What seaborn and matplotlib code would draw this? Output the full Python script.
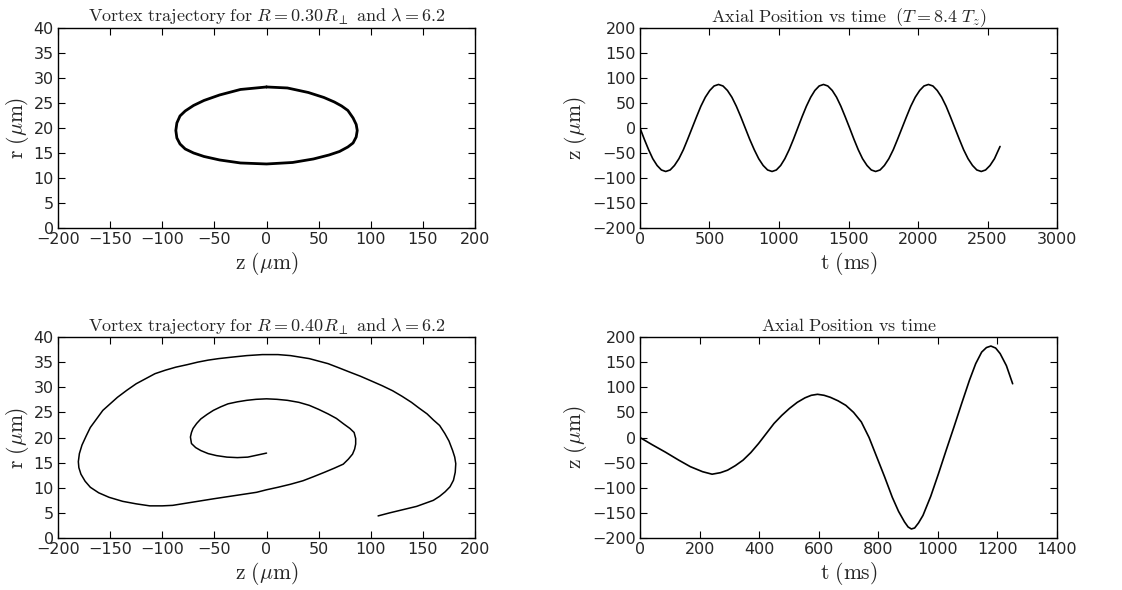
import numpy as np
import pandas as pd
import matplotlib
matplotlib.use('Agg')
import matplotlib.pyplot as plt
import seaborn as sns

# top-left: closed trajectory, R = 0.30 R_perp
orbit_z = [0, 20, 40, 55, 65, 72, 78, 83, 86, 87, 86, 83, 78, 70, 60, 45, 25,
           0, -25, -45, -60, -70, -78, -83, -86, -87, -86, -83, -78, -70, -60,
           -45, -25, 0]
orbit_r = [28.2, 28.0, 27.1, 26.1, 25.2, 24.4, 23.5, 22.0, 20.7, 19.5, 18.2,
           17.0, 16.2, 15.3, 14.6, 13.8, 13.1, 12.8, 13.0, 13.6, 14.3, 15.0,
           15.8, 16.8, 18.0, 19.5, 21.0, 22.4, 23.4, 24.5, 25.5, 26.6, 27.7, 28.2]

# top-right: axial position vs time
t1 = [0, 31, 62, 92, 123, 154, 185,
      217, 248, 280, 312, 343, 375, 407, 438, 470, 502, 533, 565,
      597, 629, 661, 693, 725, 757, 789, 822, 854, 886, 918, 950,
      981, 1012, 1042, 1073, 1104, 1135, 1166, 1197, 1228, 1258, 1289, 1320,
      1351, 1383, 1414, 1445, 1476, 1508, 1539, 1570, 1601, 1633, 1664, 1695,
      1727, 1758, 1790, 1822, 1853, 1885, 1917, 1948, 1980, 2012, 2043, 2075,
      2107, 2138, 2170, 2202, 2233, 2265, 2297, 2328, 2360, 2392, 2423, 2455,
      2486, 2518, 2550, 2590]
z1 = [0, -22.5, -43.5, -61.5, -75, -84, -87,
      -84, -75, -61.5, -43.5, -22.5, 0, 22.5, 43.5, 61.5, 75, 84, 87,
      84, 75, 61.5, 43.5, 22.5, 0, -22.5, -43.5, -61.5, -75, -84, -87,
      -84, -75, -61.5, -43.5, -22.5, 0, 22.5, 43.5, 61.5, 75, 84, 87,
      84, 75, 61.5, 43.5, 22.5, 0, -22.5, -43.5, -61.5, -75, -84, -87,
      -84, -75, -61.5, -43.5, -22.5, 0, 22.5, 43.5, 61.5, 75, 84, 87,
      84, 75, 61.5, 43.5, 22.5, 0, -22.5, -43.5, -61.5, -75, -84, -87,
      -84, -75, -61.5, -37]

# bottom-left: spiral trajectory, R = 0.40 R_perp
spiral_z = [0, -9, -18, -28, -38, -48, -56, -63, -68, -72, -73, -72, -70.5,
            -67, -63, -57, -51, -44, -37, -28, -19, -10, 0, 10, 20, 31, 41, 50,
            59, 67, 74, 80, 84, 85.5, 85.5, 84.5, 82.5, 78.5, 73.6, 65, 55.8,
            45, 35, 23, 11, 0, -9.5, -19, -35, -51, -66, -81, -90, -100, -112,
            -125, -138, -151, -161, -169, -174, -178, -180, -180.5, -179.5,
            -177, -173, -169, -163, -157, -150, -143, -134, -125, -116, -107,
            -97, -87, -76, -66, -56, -46, -33, -19, -4, 11, 23, 32, 41, 50, 59,
            69, 80, 90, 100, 111, 121, 130, 139, 146, 154, 160, 166, 171, 175,
            178.5, 180.5, 181.5, 181, 179.3, 176, 171.3, 166, 160, 152, 144,
            136, 128, 118, 107]
spiral_r = [16.9, 16.5, 16.1, 16.0, 16.1, 16.4, 16.8, 17.4, 18.0, 18.8, 20.1,
            21.0, 21.8, 22.8, 23.7, 24.6, 25.4, 26.1, 26.7, 27.1, 27.4, 27.6,
            27.7, 27.6, 27.4, 27.0, 26.4, 25.6, 24.7, 23.8, 22.7, 21.8, 21.0,
            19.8, 18.7, 17.7, 16.7, 15.7, 14.7, 13.9, 13.1, 12.2, 11.4, 10.7,
            10.1, 9.6, 9.1, 8.8, 8.3, 7.8, 7.3, 6.8, 6.5, 6.4, 6.4, 6.8, 7.3,
            8.1, 9.0, 10.1, 11.3, 12.7, 14.0, 15.2, 16.8, 18.5, 20.3, 22.0,
            23.7, 25.4, 26.7, 28.0, 29.4, 30.7, 31.7, 32.7, 33.4, 34.0, 34.5,
            35.0, 35.4, 35.7, 36.0, 36.3, 36.5, 36.5, 36.3, 36.0, 35.7, 35.2,
            34.7, 33.9, 33.0, 32.2, 31.3, 30.3, 29.3, 28.2, 27.0, 25.9, 24.7,
            23.5, 22.4, 20.8, 19.3, 17.4, 16.1, 14.8, 13.1, 11.5, 10.2, 9.2,
            8.3, 7.5, 6.9, 6.3, 5.9, 5.5, 5.0, 4.4]

# bottom-right: axial position vs time
t2 = [0, 40, 85, 130, 169, 210, 242, 270, 294, 320, 346, 372, 398, 424, 450,
      476, 502, 528, 554, 575, 596, 618, 639, 665, 691, 717, 743, 769, 795,
      821, 847, 868, 888, 900, 911, 922, 935, 950, 976, 1002, 1028, 1054,
      1080, 1106, 1127, 1147, 1163, 1178, 1194, 1209, 1230, 1251]
z2 = [0, -14, -29, -45, -58, -68, -73, -70, -65, -56, -45, -30, -12, 8, 28,
      44, 58, 70, 79, 84, 86, 84, 80, 73, 64, 50, 31, 0, -39,
      -78, -119, -147, -168, -178, -182, -180, -170, -155, -117, -72, -25, 21,
      68, 114, 147, 170, 179, 182, 178, 167, 143, 107]

sns.set_style("ticks")
plt.rcParams['font.family'] = ['DejaVu Sans']
plt.rcParams['mathtext.fontset'] = 'cm'

fig = plt.figure(figsize=(11.22, 5.9), dpi=100)
ax1 = fig.add_axes([0.0517, 0.6136, 0.3717, 0.339])
ax2 = fig.add_axes([0.5704, 0.6136, 0.3717, 0.339])
ax3 = fig.add_axes([0.0517, 0.0881, 0.3717, 0.3407])
ax4 = fig.add_axes([0.5704, 0.0881, 0.3717, 0.3407])

sns.lineplot(x=orbit_z, y=orbit_r, sort=False, estimator=None, color='black', lw=2.0, ax=ax1)
sns.lineplot(x=t1, y=z1, sort=False, estimator=None, color='black', lw=1.2, ax=ax2)
sns.lineplot(x=spiral_z, y=spiral_r, sort=False, estimator=None, color='black', lw=1.1, ax=ax3)
sns.lineplot(x=t2, y=z2, sort=False, estimator=None, color='black', lw=1.2, ax=ax4)

zlab = r'$\mathrm{z\ (}\mu\mathrm{m)}$'
rlab = r'$\mathrm{r\ (}\mu\mathrm{m)}$'
tlab = r'$\mathrm{t\ (ms)}$'

for ax in (ax1, ax3):
    ax.set_xlim(-200, 200)
    ax.set_ylim(0, 40)
    ax.set_xticks(np.arange(-200, 201, 50))
    ax.set_yticks(np.arange(0, 41, 5))
    ax.set_xlabel(zlab, fontsize=15.5, labelpad=2)
    ax.set_ylabel(rlab, fontsize=15.5, labelpad=2)

ax2.set_xlim(0, 3000)
ax2.set_xticks(np.arange(0, 3001, 500))
ax4.set_xlim(0, 1400)
ax4.set_xticks(np.arange(0, 1401, 200))
for ax in (ax2, ax4):
    ax.set_ylim(-200, 200)
    ax.set_yticks(np.arange(-200, 201, 50))
    ax.set_xlabel(tlab, fontsize=15.5, labelpad=2)
    ax.set_ylabel(zlab, fontsize=15.5, labelpad=2)

ax1.set_title(r'$\mathrm{Vortex\ trajectory\ for\ }R=0.30R_\perp\mathrm{\ and\ }\lambda=6.2$', fontsize=13, pad=4)
ax3.set_title(r'$\mathrm{Vortex\ trajectory\ for\ }R=0.40R_\perp\mathrm{\ and\ }\lambda=6.2$', fontsize=13, pad=4)
ax2.set_title(r'$\mathrm{Axial\ Position\ vs\ time\ \ (}T=8.4\ T_z\mathrm{)}$', fontsize=13, pad=4)
ax4.set_title(r'$\mathrm{Axial\ Position\ vs\ time}$', fontsize=13, pad=4)

for ax in (ax1, ax2, ax3, ax4):
    ax.tick_params(direction='in', top=True, right=True, length=5, width=0.8,
                   labelsize=11.5, pad=3, color='black')
    for s in ax.spines.values():
        s.set_linewidth(1.0)
        s.set_color('black')

plt.savefig('out.png', dpi=100)
